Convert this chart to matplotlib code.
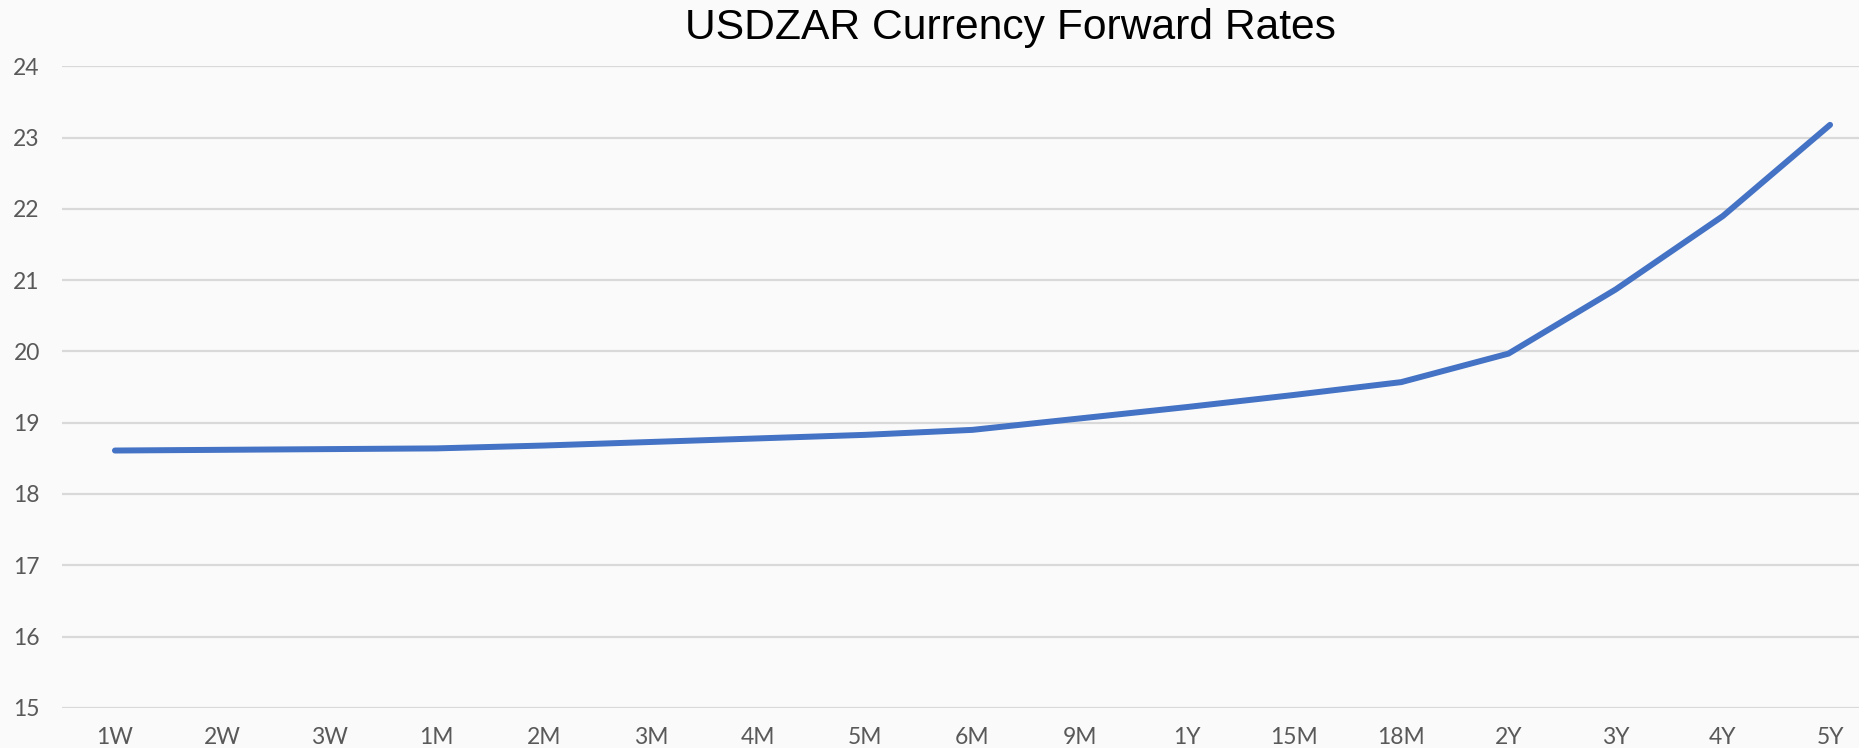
import matplotlib
matplotlib.use("Agg")
import matplotlib.pyplot as plt

# tenors and forward rates
tenors = ["1W", "2W", "3W", "1M", "2M", "3M", "4M", "5M", "6M",
          "9M", "1Y", "15M", "18M", "2Y", "3Y", "4Y", "5Y"]
rates = [18.61, 18.62, 18.63, 18.64, 18.68, 18.73, 18.78, 18.83, 18.90,
         19.06, 19.22, 19.39, 19.57, 19.97, 20.87, 21.90, 23.18]
y_ticks = list(range(15, 25))

bg = "#fafafa"
fig = plt.figure(figsize=(18.59, 7.48), dpi=100, facecolor=bg)
ax = fig.add_axes([62 / 1859, 1 - 707.8 / 748, (1859 - 62) / 1859, (707.8 - 66.4) / 748])
ax.set_facecolor(bg)

x = list(range(len(tenors)))
ax.plot(x, rates, color="#4472c4", lw=4.3, solid_capstyle="round", solid_joinstyle="round", zorder=3)

ax.set_xlim(-0.494, 16.27)
ax.set_ylim(15, 24)
ax.set_xticks(x)
ax.set_xticklabels(tenors)
ax.set_yticks(y_ticks)
ax.yaxis.grid(True, color="#d9d9d9", lw=1.6)
ax.set_axisbelow(True)
for s in ax.spines.values():
    s.set_visible(False)
ax.tick_params(length=0, labelsize=16.5, labelcolor="#595959")
ax.tick_params(axis="x", pad=14)
ax.tick_params(axis="y", pad=16)
for lab in ax.get_xticklabels() + ax.get_yticklabels():
    lab.set_family("Lato")

fig.text(1010 / 1859, 1 - 28 / 748, "USDZAR Currency Forward Rates", ha="center", va="center",
         fontsize=30.7, family="Liberation Sans", color="black")

fig.savefig("out.png", dpi=100, facecolor=bg)
